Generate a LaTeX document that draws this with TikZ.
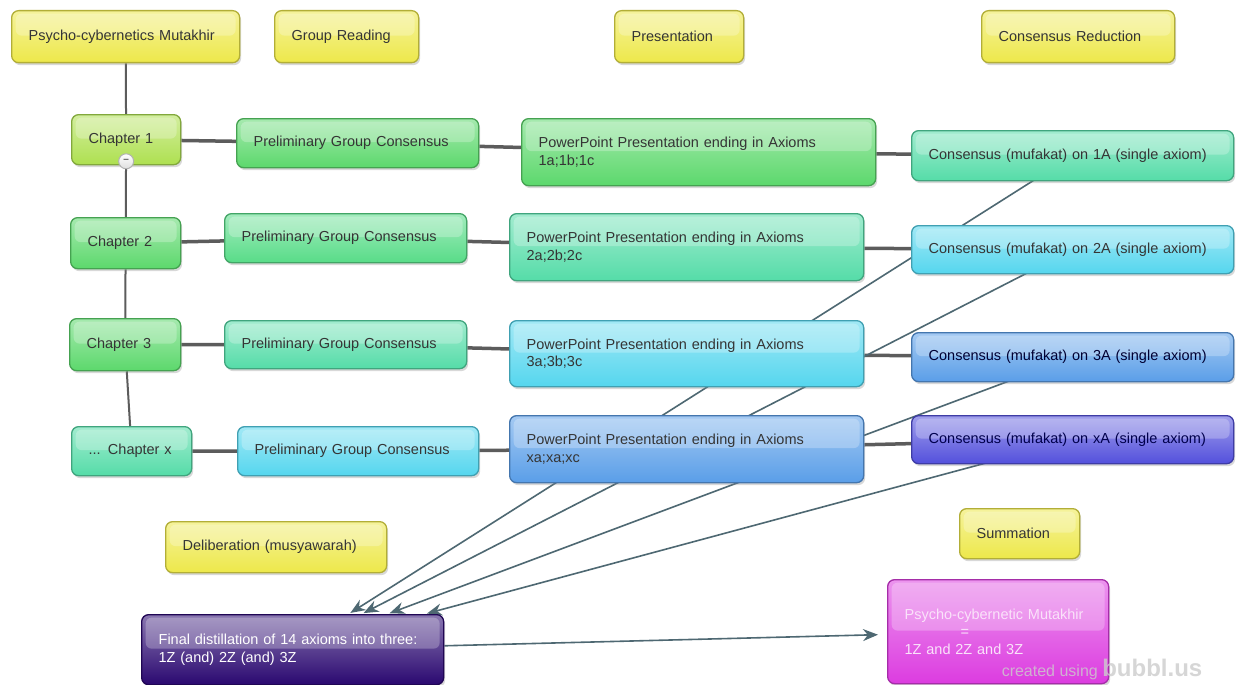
\documentclass[tikz,border=0pt]{standalone}
\usepackage{fontspec}
\setmainfont{Liberation Sans}
\usetikzlibrary{arrows.meta,shadows,backgrounds}

\definecolor{bubyellow}{HTML}{EDE84A}
\definecolor{bublime}{HTML}{AEE050}
\definecolor{bubgreen}{HTML}{5CD86C}
\definecolor{bubspring}{HTML}{58DC88}
\definecolor{bubmint}{HTML}{55DCA8}
\definecolor{bubcyan}{HTML}{55D6EE}
\definecolor{bubblue}{HTML}{5A9EE8}
\definecolor{bubviolet}{HTML}{5350DC}
\definecolor{bubindigo}{HTML}{2A0870}
\definecolor{bubmagenta}{HTML}{DC3CE0}
\definecolor{bubtext}{HTML}{353535}
\definecolor{linkgray}{HTML}{5C5C5C}
\definecolor{arrowslate}{HTML}{4E6872}

\tikzset{
  bubble/.style={anchor=north west, rounded corners=7pt, line width=1.3pt,
    draw=#1!75!black, top color=#1!55!white, bottom color=#1,
    font=\fontsize{14.5}{17.5}\selectfont, text=bubtext, align=left,
    inner xsep=17pt, inner ysep=3pt,
    drop shadow={shadow xshift=1.5pt, shadow yshift=-2.5pt, opacity=.3},
    path picture={\fill[white, opacity=.25, rounded corners=6pt]
      ([xshift=4pt, yshift=-3pt]path picture bounding box.north west)
      rectangle ([xshift=-4pt, yshift=1pt]path picture bounding box.east);}},
  boxsize/.code 2 args={\pgfmathsetmacro\boxtw{#1-34}%
    \tikzset{minimum width=#1pt, minimum height=#2pt, text width=\boxtw pt}},
  treelink/.style={draw=linkgray, line width=2pt},
  rowlink/.style={draw=linkgray, line width=3.5pt},
  axiomarrow/.style={draw=arrowslate, line width=1.6pt,
    -{Stealth[length=15pt, width=12pt]}, shorten >=2pt},
  fold/.style={circle, draw=gray!60, top color=white, bottom color=gray!25,
    line width=1pt, inner sep=0pt, minimum size=15pt,
    font=\fontsize{10}{10}\selectfont\bfseries, text=gray!70!black}
}

\begin{document}
\begin{tikzpicture}[x=1pt, y=-1pt]
  \useasboundingbox (0,0) rectangle (1239,685);

  % column headings
  \node[bubble=bubyellow, boxsize={228}{52}] (root) at (11,10) {Psycho-cybernetics Mutakhir};
  \node[bubble=bubyellow, boxsize={144}{52}] (grp) at (274,10) {Group Reading};
  \node[bubble=bubyellow, boxsize={129}{52}] (pres) at (614,10) {Presentation};
  \node[bubble=bubyellow, boxsize={193}{52}] (cred) at (981,10) {Consensus Reduction};

  % chapter rows
  \node[bubble=bublime, boxsize={109}{50}] (ch1) at (71,114) {Chapter 1};
  \node[bubble=bubgreen, boxsize={242}{49}] (pgc1) at (236,118) {Preliminary Group Consensus};
  \node[bubble=bubgreen, boxsize={354}{67}] (pp1) at (521,118) {PowerPoint Presentation ending in Axioms\\1a;1b;1c};
  \node[bubble=bubmint, boxsize={322}{50}] (c1) at (911,130) {Consensus (mufakat) on 1A (single axiom)};

  \node[bubble=bubgreen, boxsize={110}{51}] (ch2) at (70,217) {Chapter 2};
  \node[bubble=bubspring, boxsize={242}{49}] (pgc2) at (224,213) {Preliminary Group Consensus};
  \node[bubble=bubmint, boxsize={354}{67}] (pp2) at (509,213) {PowerPoint Presentation ending in Axioms\\2a;2b;2c};
  \node[bubble=bubcyan, boxsize={322}{48}] (c2) at (911,225) {Consensus (mufakat) on 2A (single axiom)};

  \node[bubble=bubgreen, boxsize={111}{52}] (ch3) at (69,318) {Chapter 3};
  \node[bubble=bubmint, boxsize={242}{48}] (pgc3) at (224,320) {Preliminary Group Consensus};
  \node[bubble=bubcyan, boxsize={354}{66}] (pp3) at (509,320) {PowerPoint Presentation ending in Axioms\\3a;3b;3c};
  \node[bubble=bubblue, boxsize={322}{49}, text=black!80!blue] (c3) at (911,332) {Consensus (mufakat) on 3A (single axiom)};

  \node[bubble=bubmint, boxsize={120}{49}] (chx) at (71,426) {... Chapter x};
  \node[bubble=bubcyan, boxsize={241}{49}] (pgcx) at (237,426) {Preliminary Group Consensus};
  \node[bubble=bubblue, boxsize={354}{67}] (ppx) at (509,415) {PowerPoint Presentation ending in Axioms\\xa;xa;xc};
  \node[bubble=bubviolet, boxsize={322}{48}, text=blue!30!black] (cx) at (911,415) {Consensus (mufakat) on xA (single axiom)};

  \node[fold] (ch1fold) at ([yshift=4pt]ch1.south) {--};

  % deliberation and summation
  \node[bubble=bubyellow, boxsize={221}{51}] (delib) at (165,521) {Deliberation (musyawarah)};
  \node[bubble=bubyellow, boxsize={120}{50}] (summ) at (959,508) {Summation};
  \node[bubble=bubindigo, boxsize={302}{70}, text=white] (final) at (141,614) {Final distillation of 14 axioms into three:\\1Z (and) 2Z (and) 3Z};
  \node[bubble=bubmagenta, boxsize={221}{104}, text=white!85!bubmagenta] (total) at (887,579)
    {Psycho-cybernetic Mutakhir\\\hspace*{56pt}=\\1Z and 2Z and 3Z};

  \node[text=gray!40, text opacity=.8] (credit) at (1102,669)
    {\fontsize{16}{16}\selectfont created using {\fontsize{24}{24}\selectfont\bfseries bubbl.us}};

  % connectors
  \begin{scope}[on background layer]
    \fill[white] (0,0) rectangle (1239,685);
    \draw[treelink] (root) -- (ch1) -- (ch2) -- (ch3) -- (chx);
    \foreach \r in {1,2,3,x}
      \draw[rowlink] (ch\r) -- (pgc\r) -- (pp\r) -- (c\r);
    \foreach \r in {1,2,3,x}
      \draw[axiomarrow] (c\r.center) -- (final);
    \draw[axiomarrow, shorten >=9pt] (final) -- (total);
  \end{scope}
\end{tikzpicture}
\end{document}
